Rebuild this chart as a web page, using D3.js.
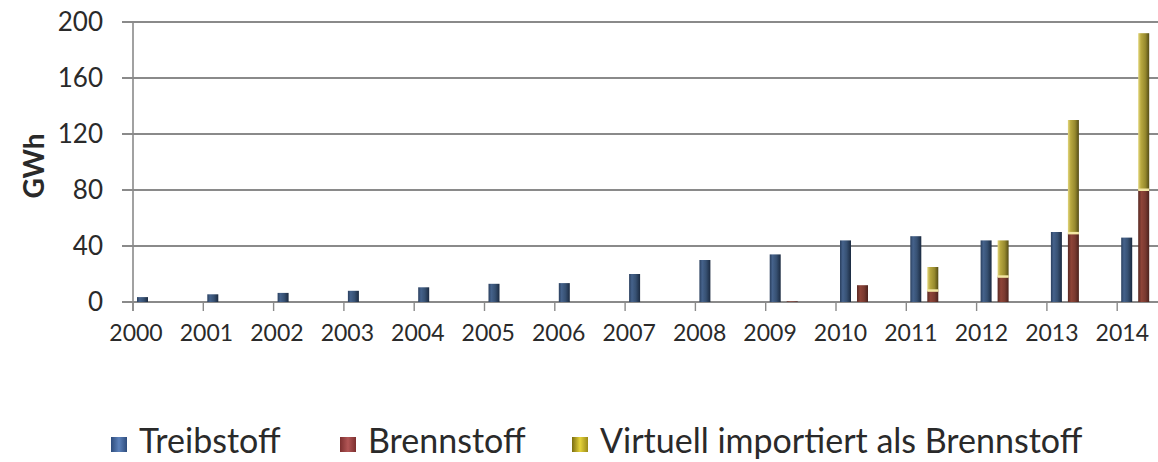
<!DOCTYPE html>
<html>
<head>
<meta charset="utf-8">
<script src="https://cdn.jsdelivr.net/npm/d3@7"></script>
<style>
  html, body { margin: 0; padding: 0; background: #fff; }
  svg { display: block; }
  text { font-family: Lato, "Open Sans", sans-serif; fill: #222; }
</style>
</head>
<body>
<svg id="chart" width="1158" height="462"></svg>
<script>
// Energy amounts per year in GWh
const years = ["2000","2001","2002","2003","2004","2005","2006","2007","2008","2009","2010","2011","2012","2013","2014"];
const treibstoff = [3.5, 5.5, 6.5, 8, 10.5, 13, 13.5, 20, 30, 34, 44, 47, 44, 50, 46];
const brennstoff = [0, 0, 0, 0, 0, 0, 0, 0, 0, 0.5, 12, 8, 18, 49, 80];
const virtuell = [0, 0, 0, 0, 0, 0, 0, 0, 0, 0, 0, 17, 26, 81, 112];
const yTicks = [0, 40, 80, 120, 160, 200];
const seriesNames = ["Treibstoff", "Brennstoff", "Virtuell importiert als Brennstoff"];
const yTitle = "GWh";

const svg = d3.select("#chart");

const plot = { left: 133, top: 22, bottom: 302, step: 70.3 };

const x = d3.scaleBand()
  .domain(years)
  .range([plot.left, plot.left + plot.step * years.length])
  .paddingInner(0).paddingOuter(0);

// slots inside each year: single bar, then stacked bar
const sub = d3.scaleBand()
  .domain(["single", "stack"])
  .range([4, 32])
  .paddingInner(0.353).paddingOuter(0);

// year labels sit slightly right of their tick marks
const labelX = d3.scalePoint()
  .domain(years)
  .range([plot.left + 3, plot.left + 3 + 70.45 * (years.length - 1)]);

const y = d3.scaleLinear().domain([0, 200]).range([plot.bottom, plot.top]);

// gradients for the bar fills
const defs = svg.append("defs");
function grad(id, stops) {
  const g = defs.append("linearGradient").attr("id", id)
    .attr("x1", "0%").attr("x2", "100%").attr("y1", "0%").attr("y2", "0%");
  stops.forEach(([o, c]) => g.append("stop").attr("offset", o).attr("stop-color", c));
}
grad("gBlue", [["0%", "#2a3f5e"], ["25%", "#45628b"], ["60%", "#375173"], ["100%", "#1b2a40"]]);
grad("gRed", [["0%", "#5a2a24"], ["30%", "#8e4438"], ["65%", "#7a3a30"], ["100%", "#4a221d"]]);
grad("gYellow", [["0%", "#e2d67c"], ["25%", "#b8a840"], ["65%", "#978a2e"], ["100%", "#544c16"]]);
grad("lBlue", [["0%", "#2e4c7c"], ["50%", "#5d82bb"], ["100%", "#2e4c7c"]]);
grad("lRed", [["0%", "#7c2f2f"], ["50%", "#b25656"], ["100%", "#7c2f2f"]]);
grad("lYellow", [["0%", "#7a6c10"], ["50%", "#e6d43a"], ["100%", "#9a8a18"]]);

// horizontal grid lines with small outward ticks
svg.append("g").selectAll("line").data(yTicks).join("line")
  .attr("x1", plot.left - 11)
  .attr("x2", x.range()[1])
  .attr("y1", d => y(d)).attr("y2", d => y(d))
  .attr("stroke", "#8a8a8a").attr("stroke-width", 1.8);

// y tick labels
svg.append("g").selectAll("text").data(yTicks).join("text")
  .attr("x", 103)
  .attr("y", d => y(d))
  .attr("dy", "0.36em")
  .attr("text-anchor", "end")
  .style("font-size", "26px")
  .style("fill", "#2a2a2a")
  .text(d => d);

// y axis title
svg.append("text")
  .attr("transform", `translate(44,${(y(0) + y(200)) / 2 + 4}) rotate(-90)`)
  .attr("text-anchor", "middle")
  .style("font-size", "28px")
  .style("font-weight", "bold")
  .style("fill", "#2a2a2a")
  .text(yTitle);

// vertical axis line
svg.append("line")
  .attr("x1", plot.left).attr("x2", plot.left)
  .attr("y1", y(200)).attr("y2", plot.bottom + 9)
  .attr("stroke", "#8a8a8a").attr("stroke-width", 1.6);

// category tick marks
svg.append("g").selectAll("line").data(years).join("line")
  .attr("x1", d => x(d)).attr("x2", d => x(d))
  .attr("y1", plot.bottom).attr("y2", plot.bottom + 9)
  .attr("stroke", "#8a8a8a").attr("stroke-width", 1.4);

// single bars (Treibstoff)
svg.append("g").selectAll("rect").data(years).join("rect")
  .attr("x", d => x(d) + sub("single"))
  .attr("width", sub.bandwidth())
  .attr("y", (d, i) => y(treibstoff[i]))
  .attr("height", (d, i) => y(0) - y(treibstoff[i]))
  .attr("fill", "url(#gBlue)");

// stacked bars: Brennstoff with Virtuell on top
const stackRows = years.map((yr, i) => ({ year: yr, brennstoff: brennstoff[i], virtuell: virtuell[i] }));
const stacked = d3.stack().keys(["brennstoff", "virtuell"])(stackRows);
const fills = { brennstoff: "url(#gRed)", virtuell: "url(#gYellow)" };

stacked.forEach(layer => {
  svg.append("g").selectAll("rect").data(layer.filter(d => d[1] > d[0])).join("rect")
    .attr("x", d => x(d.data.year) + sub("stack"))
    .attr("width", sub.bandwidth())
    .attr("y", d => y(d[1]))
    .attr("height", d => y(d[0]) - y(d[1]))
    .attr("fill", fills[layer.key]);
});

// light seam where the yellow segment sits on the red one
svg.append("g").selectAll("rect")
  .data(stackRows.filter(d => d.brennstoff > 0 && d.virtuell > 0)).join("rect")
  .attr("x", d => x(d.year) + sub("stack"))
  .attr("width", sub.bandwidth())
  .attr("y", d => y(d.brennstoff) - 1.5)
  .attr("height", 2.5)
  .attr("fill", "#f3e7a4");

// year labels
svg.append("g").selectAll("text").data(years).join("text")
  .attr("x", d => labelX(d))
  .attr("y", 341)
  .attr("text-anchor", "middle")
  .style("font-size", "23px")
  .style("fill", "#2a2a2a")
  .text(d => d);

// legend
const legendX = [139, 368, 600];
const legendFill = ["url(#lBlue)", "url(#lRed)", "url(#lYellow)"];
const legend = svg.append("g").selectAll("g").data(seriesNames).join("g")
  .attr("transform", (d, i) => `translate(${legendX[i]},453)`);
legend.append("rect")
  .attr("x", -28).attr("y", -16).attr("width", 16).attr("height", 15)
  .attr("fill", (d, i) => legendFill[i]);
legend.append("text")
  .attr("x", 0).attr("y", 0)
  .style("font-size", "34px")
  .style("fill", "#2a2a2a")
  .text(d => d);
</script>
</body>
</html>
